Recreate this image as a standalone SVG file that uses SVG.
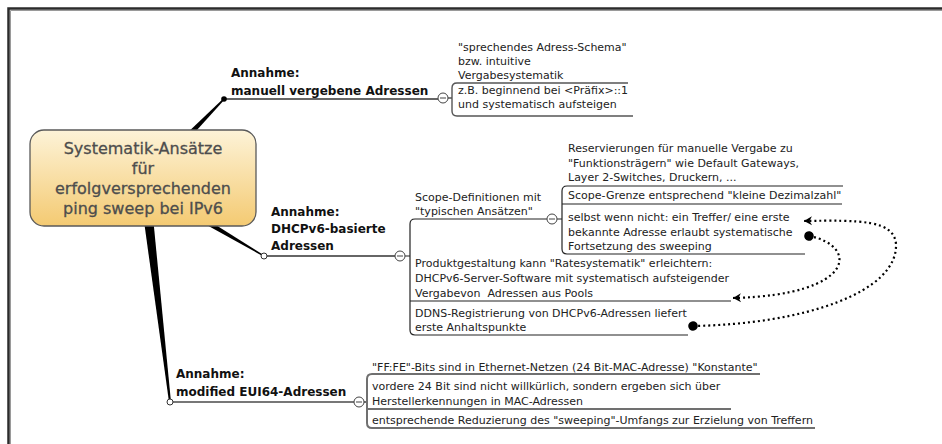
<svg xmlns="http://www.w3.org/2000/svg" width="942" height="444" viewBox="0 0 942 444">
  <defs>
    <linearGradient id="centralFill" x1="0" y1="0" x2="0" y2="1">
      <stop offset="0" stop-color="#fdf3d8"/>
      <stop offset="1" stop-color="#f4ca72"/>
    </linearGradient>
    <marker id="chevron" markerUnits="userSpaceOnUse" markerWidth="12" markerHeight="12" viewBox="-10 -6 12 12" refX="0" refY="0" orient="auto">
      <path d="M -8 -4.5 L 0 0 L -8 4.5 L -5.5 0 Z" fill="#000"/>
    </marker>
    <marker id="startDot" markerUnits="userSpaceOnUse" markerWidth="12" markerHeight="12" viewBox="-6 -6 12 12" refX="0" refY="0" orient="auto">
      <circle r="4.8" fill="#000"/>
    </marker>
    <style>
      .frame { fill: none; stroke: #2b2b2b; stroke-width: 2.5; }
      .frame2 { fill: none; stroke: #9a9a9a; stroke-width: 1; }
      .t { font-family: "DejaVu Sans", Verdana, sans-serif; font-size: 11px; fill: #222; }
      .lbl { font-family: "DejaVu Sans", Verdana, sans-serif; font-size: 12px; font-weight: bold; fill: #111; }
      .ctr { font-family: "DejaVu Sans", Verdana, sans-serif; font-size: 16px; fill: #4d4d4d; stroke: #4d4d4d; stroke-width: 0.3; text-anchor: middle; }
      .box { fill: url(#centralFill); stroke: #5a5a5a; stroke-width: 1.3; }
      .trunk { fill: #000; }
      .bl { fill: none; stroke: #333; stroke-width: 1.5; }
      .bl3 { fill: none; stroke: #777; stroke-width: 2; }
      .sub { fill: none; stroke: #222; stroke-width: 1.2; }
      .sub1 { fill: none; stroke: #555; stroke-width: 1.4; }
      .sub3 { fill: none; stroke: #707070; stroke-width: 2; }
      .tog { fill: #fff; stroke: #444; stroke-width: 1; }
      .togbar { stroke: #444; stroke-width: 1; }
      .hollow { fill: #fff; stroke: #333; stroke-width: 1; }
      .rel { fill: none; stroke: #000; stroke-width: 2.2; stroke-dasharray: 2 3; }
    </style>
  </defs>

  <rect width="942" height="444" fill="#fff"/>

  <!-- page frame (open on right and bottom) -->
  <path class="frame" d="M 8.5 444 V 8.5 H 942"/>
  <path class="frame2" d="M 10.5 444 V 10.5 H 942"/>

  <!-- connectors -->
  <g id="connectors">
    <polygon class="trunk" points="183.0,137.05 187.0,140.95 224.6,99.6 223.4,98.4"/>
    <polygon class="trunk" points="204.27,217.85 264.36,255.4 263.64,256.6 201.73,222.15"/>
    <polygon class="trunk" points="143.23,215.56 152.77,214.44 170.99,401.88 169.01,402.12"/>

    <path class="bl" d="M 224 99 H 438"/>
    <path class="bl" d="M 264 256 H 395"/>
    <path class="bl3" d="M 170 402 H 354"/>

    <!-- subtopic brackets -->
    <path class="sub1" d="M 448 98 H 452 M 628 83 H 457 Q 452 83 452 88 V 111 Q 452 116 457 116 H 633"/>
    <path class="sub" d="M 405 256 H 410 M 547 219 H 415 Q 410 219 410 224 V 330 Q 410 335 415 335 H 688 M 410 301 H 731"/>
    <path class="sub" d="M 557 219 H 562 M 843 186 H 567 Q 562 186 562 191 V 249 Q 562 254 567 254 H 805 M 562 204 H 842"/>
    <path class="sub3" d="M 364 402 H 367 M 760 374 H 372 Q 367 374 367 379 V 423 Q 367 428 372 428 H 815 M 367 409 H 731"/>

    <!-- relationships -->
    <path class="rel" d="M 809 236 C 858 245, 858 295, 733 298" marker-start="url(#startDot)" marker-end="url(#chevron)"/>
    <path class="rel" d="M 693 326 C 805 324, 898 292, 896 244 C 894 220, 860 220, 804 221" marker-start="url(#startDot)" marker-end="url(#chevron)"/>

    <!-- joint markers -->
    <circle cx="224" cy="99" r="2.8" fill="#000"/>
    <circle class="hollow" cx="264" cy="256" r="3"/>
    <circle class="hollow" cx="170" cy="402" r="3"/>
  </g>

  <!-- central topic -->
  <g id="central">
    <rect class="box" x="30" y="130" width="226" height="96" rx="14"/>
    <text class="ctr" x="143" y="154">Systematik-Ansätze</text>
    <text class="ctr" x="143" y="174">für</text>
    <text class="ctr" x="143" y="194">erfolgversprechenden</text>
    <text class="ctr" x="143" y="214">ping sweep bei IPv6</text>
  </g>

  <!-- main topic: manual addresses -->
  <g id="topic-manuell">
    <text class="lbl" x="231" y="77">Annahme:</text>
    <text class="lbl" x="231" y="95">manuell vergebene Adressen</text>
    <circle class="tog" cx="443" cy="98" r="5"/>
    <line class="togbar" x1="440" y1="98" x2="446" y2="98"/>
  </g>
  <g id="sub-schema">
    <text class="t" x="458" y="51">"sprechendes Adress-Schema"</text>
    <text class="t" x="458" y="65">bzw. intuitive</text>
    <text class="t" x="458" y="79">Vergabesystematik</text>
  </g>
  <g id="sub-praefix">
    <text class="t" x="458" y="94">z.B. beginnend bei &lt;Präfix&gt;::1</text>
    <text class="t" x="458" y="108">und systematisch aufsteigen</text>
  </g>

  <!-- main topic: DHCPv6 -->
  <g id="topic-dhcpv6">
    <text class="lbl" x="271" y="216">Annahme:</text>
    <text class="lbl" x="271" y="233">DHCPv6-basierte</text>
    <text class="lbl" x="271" y="250">Adressen</text>
    <circle class="tog" cx="400" cy="256" r="5"/>
    <line class="togbar" x1="397" y1="256" x2="403" y2="256"/>
  </g>
  <g id="sub-scope">
    <text class="t" x="415" y="201">Scope-Definitionen mit</text>
    <text class="t" x="415" y="215">"typischen Ansätzen"</text>
    <circle class="tog" cx="552" cy="219" r="5"/>
    <line class="togbar" x1="549" y1="219" x2="555" y2="219"/>
  </g>
  <g id="sub-reservierungen">
    <text class="t" x="568" y="152">Reservierungen für manuelle Vergabe zu</text>
    <text class="t" x="568" y="167">"Funktionsträgern" wie Default Gateways,</text>
    <text class="t" x="568" y="181">Layer 2-Switches, Druckern, ...</text>
  </g>
  <g id="sub-scopegrenze">
    <text class="t" x="568" y="199">Scope-Grenze entsprechend "kleine Dezimalzahl"</text>
  </g>
  <g id="sub-treffer">
    <text class="t" x="568" y="221">selbst wenn nicht: ein Treffer/ eine erste</text>
    <text class="t" x="568" y="236">bekannte Adresse erlaubt systematische</text>
    <text class="t" x="568" y="250">Fortsetzung des sweeping</text>
  </g>
  <g id="sub-produkt">
    <text class="t" x="415" y="267">Produktgestaltung kann "Ratesystematik" erleichtern:</text>
    <text class="t" x="415" y="282">DHCPv6-Server-Software mit systematisch aufsteigender</text>
    <text class="t" x="415" y="297">Vergabevon&#160; Adressen aus Pools</text>
  </g>
  <g id="sub-ddns">
    <text class="t" x="415" y="317">DDNS-Registrierung von DHCPv6-Adressen liefert</text>
    <text class="t" x="415" y="331">erste Anhaltspunkte</text>
  </g>

  <!-- main topic: modified EUI64 -->
  <g id="topic-eui64">
    <text class="lbl" x="176" y="378">Annahme:</text>
    <text class="lbl" x="176" y="396">modified EUI64-Adressen</text>
    <circle class="tog" cx="359" cy="402" r="5"/>
    <line class="togbar" x1="356" y1="402" x2="362" y2="402"/>
  </g>
  <g id="sub-fffe">
    <text class="t" x="372" y="371">"FF:FE"-Bits sind in Ethernet-Netzen (24 Bit-MAC-Adresse) "Konstante"</text>
  </g>
  <g id="sub-hersteller">
    <text class="t" x="372" y="390">vordere 24 Bit sind nicht willkürlich, sondern ergeben sich über</text>
    <text class="t" x="372" y="405">Herstellerkennungen in MAC-Adressen</text>
  </g>
  <g id="sub-reduzierung">
    <text class="t" x="372" y="424">entsprechende Reduzierung des "sweeping"-Umfangs zur Erzielung von Treffern</text>
  </g>
</svg>
